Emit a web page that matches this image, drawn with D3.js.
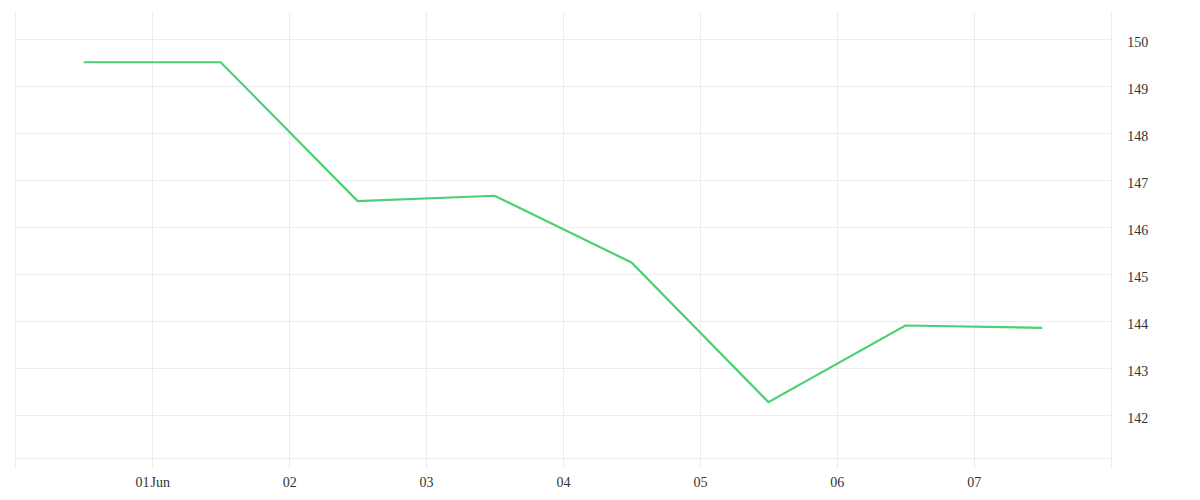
<!DOCTYPE html>
<html>
<head>
<meta charset="utf-8">
<script src="https://cdn.jsdelivr.net/npm/d3@7"></script>
<style>
  html, body { margin: 0; padding: 0; background: #fff; }
  svg { display: block; }
  text { font-family: "Liberation Serif", "DejaVu Serif", serif; fill: #333; }
</style>
</head>
<body>
<svg id="chart" width="1200" height="500"></svg>
<script>
// Data (daily values plotted at mid-day)
const dates = ["2023-05-31T12:00", "2023-06-01T12:00", "2023-06-02T12:00", "2023-06-03T12:00",
               "2023-06-04T12:00", "2023-06-05T12:00", "2023-06-06T12:00", "2023-06-07T12:00"];
const values = [149.51, 149.51, 146.555, 146.67, 145.25, 142.28, 143.91, 143.86];
const yTicks = [142, 143, 144, 145, 146, 147, 148, 149, 150];
const xDomain = ["2023-05-31T00:00", "2023-06-08T00:00"];
const yDomain = [141.085, 150.572];

const parse = d3.isoParse;
const data = dates.map((d, i) => ({ date: parse(d), value: values[i] }));

const pLeft = 15.3, pRight = 1110.7, pTop = 12.3, pBottom = 458.3;

const svg = d3.select("#chart");
const x = d3.scaleTime().domain(xDomain.map(parse)).range([pLeft, pRight]);
const y = d3.scaleLinear().domain(yDomain).range([pBottom, pTop]);

const grid = "#ececec";

// horizontal grid lines
svg.append("g").selectAll("line").data(yTicks).join("line")
  .attr("x1", pLeft).attr("x2", pRight)
  .attr("y1", d => Math.round(y(d)) + 0.5).attr("y2", d => Math.round(y(d)) + 0.5)
  .attr("stroke", grid).attr("stroke-width", 1);
// bottom border line
svg.append("line")
  .attr("x1", pLeft).attr("x2", pRight)
  .attr("y1", Math.round(pBottom) + 0.5).attr("y2", Math.round(pBottom) + 0.5)
  .attr("stroke", grid).attr("stroke-width", 1);

// vertical grid lines (every day) extending below plot as ticks
const days = d3.timeDay.range(x.domain()[0], d3.timeDay.offset(x.domain()[1], 1));
svg.append("g").selectAll("line").data(days).join("line")
  .attr("x1", d => Math.round(x(d)) + 0.5).attr("x2", d => Math.round(x(d)) + 0.5)
  .attr("y1", pTop).attr("y2", pBottom + 10)
  .attr("stroke", grid).attr("stroke-width", 1);

// x labels
const fmt = d => d.getDate() === 1 ? d3.timeFormat("%d Jun")(d) : d3.timeFormat("%d")(d);
const labelDays = days.filter(d => d > x.domain()[0] && d < x.domain()[1]);
const xAxis = d3.axisBottom(x).tickValues(labelDays).tickFormat(fmt).tickSize(0).tickPadding(0);
const gx = svg.append("g").attr("transform", `translate(0,${pBottom})`).call(xAxis);
gx.select(".domain").remove();
gx.selectAll("text").attr("y", 29.2).attr("dy", null)
  .style("font-size", "14px").style("word-spacing", "-2.5px")
  .style("font-family", '"Liberation Serif", serif').attr("fill", "#333");

// y labels
const yAxis = d3.axisRight(y).tickValues(yTicks).tickFormat(d3.format("d")).tickSize(0).tickPadding(0);
const gy = svg.append("g").attr("transform", `translate(${pRight},0)`).call(yAxis);
gy.select(".domain").remove();
gy.selectAll("text").attr("x", 16.5).attr("dy", "0.5em")
  .style("font-size", "14px").style("font-family", '"Liberation Serif", serif').attr("fill", "#333");

// line
const line = d3.line().x(d => x(d.date)).y(d => y(d.value));
svg.append("path").datum(data)
  .attr("d", line)
  .attr("fill", "none")
  .attr("stroke", "#4cd074")
  .attr("stroke-width", 2.2)
  .attr("stroke-linejoin", "miter");
</script>
</body>
</html>
